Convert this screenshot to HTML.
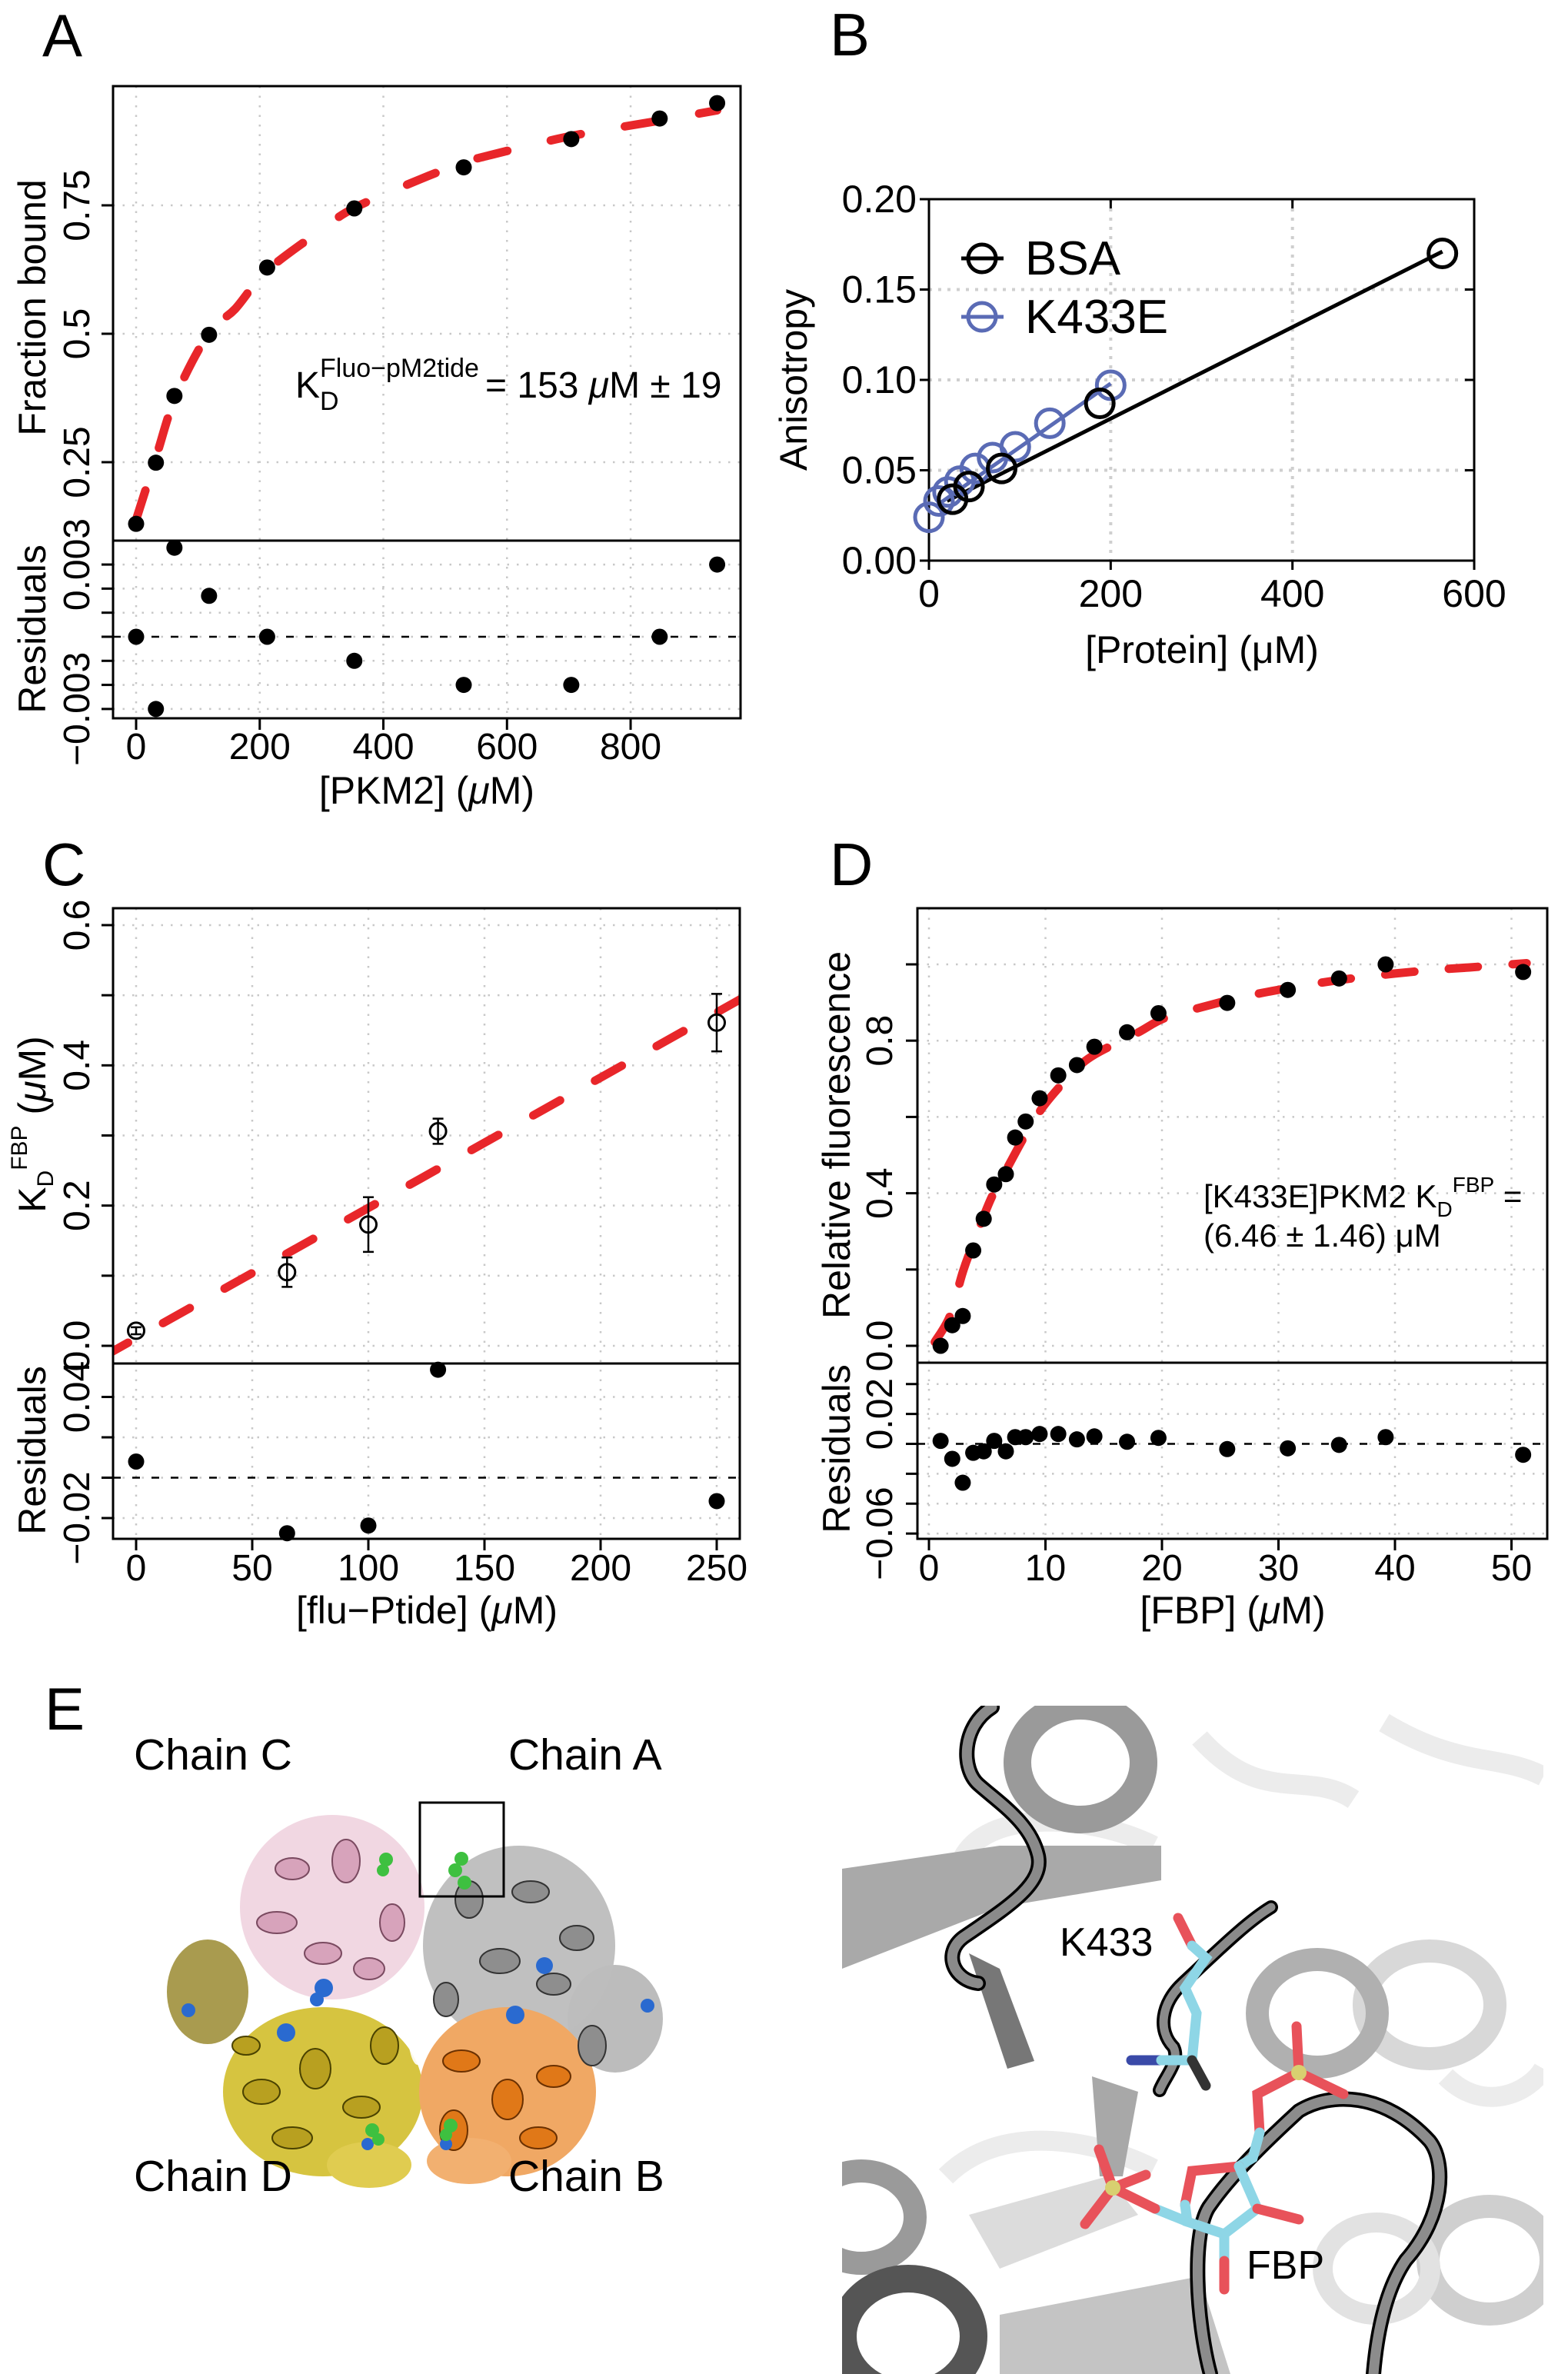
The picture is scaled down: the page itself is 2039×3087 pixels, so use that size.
<!DOCTYPE html>
<html><head><meta charset="utf-8"><style>
html,body{margin:0;padding:0;background:#fff}
svg{display:block;font-family:"Liberation Sans",Arial,sans-serif}
</style></head><body>
<svg id="fig" xmlns="http://www.w3.org/2000/svg" width="2039" height="3087" viewBox="0 0 2039 3087">
<defs>
<clipPath id="clipA"><rect x="147" y="112" width="816" height="591"/></clipPath>
<clipPath id="clipC"><rect x="147" y="1181" width="815" height="592"/></clipPath>
<clipPath id="clipD"><rect x="1193" y="1181" width="819" height="591"/></clipPath>
<clipPath id="clipE"><rect x="1095" y="2218" width="912" height="869"/></clipPath>
</defs>
<rect width="2039" height="3087" fill="#fff"/>

<!-- panel letters -->
<text x="55" y="73" font-size="78">A</text>
<text x="1079" y="72" font-size="78">B</text>
<text x="55" y="1151" font-size="78">C</text>
<text x="1079" y="1151" font-size="78">D</text>
<text x="58" y="2249" font-size="78">E</text>

<g id="gA"></g>
<g id="gB"></g>
<g id="gC"></g>
<g id="gD"></g>

<!-- Panel A text -->
<text x="116" y="400" font-size="50" text-anchor="middle" transform="rotate(-90 59 400)" dx="-57">Fraction bound</text>
<text x="59" y="818" font-size="50" text-anchor="middle" transform="rotate(-90 59 818)">Residuals</text>
<text x="555" y="1045" font-size="50" text-anchor="middle">[PKM2] (<tspan font-style="italic">μ</tspan>M)</text>
<g>
<text x="384" y="517" font-size="48">K</text>
<text x="416" y="533" font-size="34">D</text>
<text x="416" y="490" font-size="34">Fluo−pM2tide</text>
<text x="631" y="517" font-size="48">= 153 <tspan font-style="italic">μ</tspan>M ± 19</text>
</g>

<!-- Panel B text -->
<text x="1049" y="494" font-size="50" text-anchor="middle" transform="rotate(-90 1049 494)">Anisotropy</text>
<text x="1563" y="862" font-size="50" text-anchor="middle">[Protein] (μM)</text>
<g>
<line x1="1250" y1="336" x2="1305" y2="336" stroke="#000" stroke-width="5"/>
<circle cx="1277" cy="336" r="18" fill="none" stroke="#000" stroke-width="5"/>
<text x="1333" y="357" font-size="62">BSA</text>
<line x1="1250" y1="412" x2="1305" y2="412" stroke="#5a6bb5" stroke-width="5"/>
<circle cx="1277" cy="412" r="18" fill="none" stroke="#5a6bb5" stroke-width="5"/>
<text x="1333" y="433" font-size="62">K433E</text>
</g>

<!-- Panel C text -->
<text x="59" y="1462" font-size="50" text-anchor="middle" transform="rotate(-90 59 1462)">K<tspan font-size="30" dy="10">D</tspan><tspan font-size="30" dy="-34">FBP</tspan><tspan dy="24"> (</tspan><tspan font-style="italic">μ</tspan>M)</text>
<text x="59" y="1886" font-size="50" text-anchor="middle" transform="rotate(-90 59 1886)">Residuals</text>
<text x="555" y="2111" font-size="50" text-anchor="middle">[flu−Ptide] (<tspan font-style="italic">μ</tspan>M)</text>

<!-- Panel D text -->
<text x="1105" y="1476" font-size="50" text-anchor="middle" transform="rotate(-90 1105 1476)">Relative fluorescence</text>
<text x="1105" y="1884" font-size="50" text-anchor="middle" transform="rotate(-90 1105 1884)">Residuals</text>
<text x="1603" y="2111" font-size="50" text-anchor="middle">[FBP] (<tspan font-style="italic">μ</tspan>M)</text>
<g>
<text x="1565" y="1570" font-size="42">[K433E]PKM2 K<tspan font-size="28" dy="12">D</tspan><tspan font-size="28" dy="-32">FBP</tspan><tspan dy="20"> =</tspan></text>
<text x="1565" y="1621" font-size="42">(6.46 ± 1.46) μM</text>
</g>

<!-- Panel E left: tetramer -->
<g>
<ellipse cx="270" cy="2590" rx="53" ry="68" fill="#9a8a30" opacity="0.85"/>
<ellipse cx="800" cy="2625" rx="62" ry="70" fill="#b0b0b0" opacity="0.85"/>
<ellipse cx="432" cy="2480" rx="120" ry="120" fill="#efd3df" opacity="0.9"/>
<ellipse cx="675" cy="2530" rx="125" ry="130" fill="#bdbdbd" opacity="0.95"/>
<ellipse cx="420" cy="2720" rx="130" ry="110" fill="#d6c440"/>
<ellipse cx="660" cy="2720" rx="115" ry="110" fill="#f0a864"/>
<ellipse cx="480" cy="2815" rx="55" ry="30" fill="#e0cc50"/>
<ellipse cx="610" cy="2810" rx="55" ry="30" fill="#f2b070"/>
<g fill="#d7a3bb" stroke="#7a4a60" stroke-width="2">
<ellipse cx="380" cy="2430" rx="22" ry="14"/><ellipse cx="450" cy="2420" rx="18" ry="28"/><ellipse cx="360" cy="2500" rx="26" ry="14"/><ellipse cx="420" cy="2540" rx="24" ry="14"/><ellipse cx="480" cy="2560" rx="20" ry="14"/><ellipse cx="510" cy="2500" rx="16" ry="24"/>
</g>
<g fill="#8e8e8e" stroke="#333" stroke-width="2">
<ellipse cx="610" cy="2470" rx="18" ry="24"/><ellipse cx="690" cy="2460" rx="24" ry="14"/><ellipse cx="750" cy="2520" rx="22" ry="16"/><ellipse cx="650" cy="2550" rx="26" ry="16"/><ellipse cx="720" cy="2580" rx="22" ry="14"/><ellipse cx="580" cy="2600" rx="16" ry="22"/><ellipse cx="770" cy="2660" rx="18" ry="26"/>
</g>
<g fill="#b8a020" stroke="#4a4200" stroke-width="2">
<ellipse cx="340" cy="2720" rx="24" ry="16"/><ellipse cx="410" cy="2690" rx="20" ry="26"/><ellipse cx="470" cy="2740" rx="24" ry="14"/><ellipse cx="380" cy="2780" rx="26" ry="14"/><ellipse cx="320" cy="2660" rx="18" ry="12"/><ellipse cx="500" cy="2660" rx="18" ry="24"/>
</g>
<g fill="#e07818" stroke="#6a3000" stroke-width="2">
<ellipse cx="600" cy="2680" rx="24" ry="14"/><ellipse cx="660" cy="2730" rx="20" ry="26"/><ellipse cx="720" cy="2700" rx="22" ry="14"/><ellipse cx="700" cy="2780" rx="24" ry="14"/><ellipse cx="590" cy="2770" rx="18" ry="26"/>
</g>
<ellipse cx="543" cy="2625" rx="14" ry="60" fill="#fff" opacity="0.9"/>
<g fill="#2a6ad0">
<circle cx="421" cy="2585" r="12"/><circle cx="412" cy="2600" r="9"/><circle cx="708" cy="2556" r="11"/><circle cx="670" cy="2620" r="12"/><circle cx="372" cy="2643" r="12"/><circle cx="245" cy="2614" r="9"/><circle cx="842" cy="2608" r="9"/><circle cx="478" cy="2788" r="8"/><circle cx="580" cy="2788" r="8"/>
</g>
<g fill="#3ec040">
<circle cx="600" cy="2417" r="9"/><circle cx="592" cy="2432" r="9"/><circle cx="604" cy="2448" r="9"/><circle cx="502" cy="2418" r="9"/><circle cx="498" cy="2432" r="8"/><circle cx="484" cy="2770" r="9"/><circle cx="492" cy="2782" r="8"/><circle cx="586" cy="2764" r="9"/><circle cx="580" cy="2776" r="8"/>
</g>
<rect x="546" y="2344" width="109" height="122" fill="none" stroke="#000" stroke-width="3"/>
</g>
<text x="174" y="2301" font-size="57">Chain C</text>
<text x="661" y="2301" font-size="57">Chain A</text>
<text x="174" y="2849" font-size="57">Chain D</text>
<text x="661" y="2849" font-size="57">Chain B</text>

<!-- Panel E right: close-up -->
<g clip-path="url(#clipE)">
<rect x="1095" y="2218" width="912" height="869" fill="#fff"/>
<g fill="none" stroke="#ececec" stroke-width="26">
<path d="M1250 2420 C1280 2350 1420 2360 1500 2400"/><path d="M1560 2260 C1640 2350 1700 2300 1760 2340"/><path d="M1800 2240 C1900 2300 1950 2280 2007 2310"/><path d="M1230 2830 C1300 2760 1420 2780 1500 2820"/><path d="M1880 2700 C1930 2750 1990 2720 2007 2690"/>
</g>
<ellipse cx="1859" cy="2607" rx="85" ry="70" fill="none" stroke="#d8d8d8" stroke-width="30"/>
<ellipse cx="1937" cy="2939" rx="80" ry="70" fill="none" stroke="#cfcfcf" stroke-width="30"/>
<ellipse cx="1790" cy="2950" rx="70" ry="60" fill="none" stroke="#e2e2e2" stroke-width="26"/>
<polygon points="1095,2430 1300,2400 1510,2400 1510,2445 1300,2480 1095,2560" fill="#a9a9a9"/>
<polygon points="1260,2540 1300,2560 1345,2680 1310,2690" fill="#777"/>
<polygon points="1420,2700 1480,2720 1460,2830 1430,2830" fill="#a8a8a8"/>
<polygon points="1260,2880 1440,2830 1480,2880 1300,2950" fill="#dcdcdc"/>
<polygon points="1300,3010 1560,2960 1600,3087 1300,3087" fill="#c4c4c4"/>
<ellipse cx="1405" cy="2292" rx="82" ry="74" fill="none" stroke="#9a9a9a" stroke-width="36"/>
<ellipse cx="1713" cy="2618" rx="78" ry="70" fill="none" stroke="#b0b0b0" stroke-width="30"/>
<ellipse cx="1120" cy="2883" rx="70" ry="60" fill="none" stroke="#9a9a9a" stroke-width="30"/>
<ellipse cx="1181" cy="3038" rx="85" ry="75" fill="none" stroke="#555" stroke-width="36"/>
<g fill="none" stroke-linecap="round">
<path d="M1290 2220 C1250 2245 1250 2300 1272 2320 C1300 2345 1340 2370 1350 2413 C1358 2450 1310 2480 1253 2519 C1225 2540 1240 2575 1272 2579" stroke="#000" stroke-width="20"/>
<path d="M1290 2220 C1250 2245 1250 2300 1272 2320 C1300 2345 1340 2370 1350 2413 C1358 2450 1310 2480 1253 2519 C1225 2540 1240 2575 1272 2579" stroke="#8a8a8a" stroke-width="13"/>
<path d="M1653 2480 C1620 2500 1580 2540 1538 2579 C1510 2605 1505 2640 1526 2662 C1535 2680 1515 2700 1508 2718" stroke="#000" stroke-width="18"/>
<path d="M1653 2480 C1620 2500 1580 2540 1538 2579 C1510 2605 1505 2640 1526 2662 C1535 2680 1515 2700 1508 2718" stroke="#8a8a8a" stroke-width="11"/>
<path d="M1574 3087 C1556 3020 1548 2900 1574 2867 C1600 2830 1640 2790 1689 2745 C1730 2720 1800 2720 1859 2784 C1880 2810 1880 2880 1828 2939 C1800 2980 1790 3040 1786 3087" stroke="#000" stroke-width="20"/>
<path d="M1574 3087 C1556 3020 1548 2900 1574 2867 C1600 2830 1640 2790 1689 2745 C1730 2720 1800 2720 1859 2784 C1880 2810 1880 2880 1828 2939 C1800 2980 1790 3040 1786 3087" stroke="#8c8c8c" stroke-width="13"/>
</g>
<g stroke-linecap="round" stroke-width="13" fill="none">
<polyline points="1532,2494 1550,2530" stroke="#e8525a"/>
<polyline points="1550,2530 1568,2546 1541,2585 1556,2618 1550,2679" stroke="#8ed6e6"/>
<polyline points="1471,2679 1510,2679" stroke="#3a4aa8"/>
<polyline points="1510,2679 1550,2679" stroke="#8ed6e6"/>
<polyline points="1550,2679 1568,2712" stroke="#333"/>
</g>
<g stroke-linecap="round" stroke-width="13" fill="none">
<polyline points="1686,2635 1689,2695 1747,2723" stroke="#e8525a"/>
<polyline points="1689,2695 1635,2723 1638,2773" stroke="#e8525a"/>
<polyline points="1638,2773 1629,2806 1611,2817" stroke="#8ed6e6"/>
<polyline points="1611,2817 1550,2823 1541,2867" stroke="#e8525a"/>
<polyline points="1541,2867 1544,2889 1592,2905 1635,2872 1611,2817" stroke="#8ed6e6"/>
<polyline points="1635,2872 1689,2886" stroke="#e8525a"/>
<polyline points="1592,2905 1592,2940" stroke="#8ed6e6"/>
<polyline points="1592,2940 1592,2977" stroke="#e8525a"/>
<polyline points="1544,2889 1502,2872" stroke="#8ed6e6"/>
<polyline points="1429,2795 1447,2845 1411,2892" stroke="#e8525a"/>
<polyline points="1447,2845 1490,2828" stroke="#e8525a"/>
<polyline points="1447,2845 1502,2872" stroke="#e8525a"/>
<circle cx="1689" cy="2695" r="10" fill="#d8d070" stroke="none"/>
<circle cx="1447" cy="2845" r="10" fill="#d8d070" stroke="none"/>
</g>
</g>
<text x="1378" y="2543" font-size="52">K433</text>
<text x="1621" y="2963" font-size="52">FBP</text>

<script>
// ---------- Panel A data ----------
const aX = [0, 32, 62, 118, 212, 353, 530, 704, 847, 940];
const aY = [0.130, 0.249, 0.379, 0.498, 0.629, 0.744, 0.824, 0.879, 0.919, 0.949];
const aRes = [0, -0.003, 0.0037, 0.0017, 0, -0.001, -0.002, -0.002, 0, 0.003];
const aFitX = [0, 32, 65, 118, 160, 212, 302, 353, 460, 530, 577, 704, 847, 940];
const aFitY = [0.138, 0.259, 0.381, 0.502, 0.548, 0.623, 0.704, 0.745, 0.801, 0.833, 0.849, 0.885, 0.915, 0.935];
const aXTicks = [0, 200, 400, 600, 800];
const aYTicks = [0.25, 0.5, 0.75];
const aYLabels = ["0.25", "0.5", "0.75"];
const aRTicks = [-0.003, -0.002, -0.001, 0, 0.001, 0.002, 0.003];
const aRLabelVals = [-0.003, 0.003];
const aRLabels = ["−0.003", "0.003"];
// ---------- Panel B data ----------
const bsaX = [26, 44, 80, 188, 565];
const bsaY = [0.034, 0.041, 0.051, 0.087, 0.170];
const bsaFitX = [20, 565];
const bsaFitY = [0.033, 0.171];
const k433X = [0, 11, 21, 34, 51, 70, 95, 133, 200];
const k433Y = [0.024, 0.033, 0.038, 0.044, 0.051, 0.057, 0.063, 0.076, 0.097];
const k433FitX = [7, 200];
const k433FitY = [0.030, 0.098];
const bXTicks = [0, 200, 400, 600];
const bYTicks = [0, 0.05, 0.10, 0.15, 0.20];
const bYLabels = ["0.00", "0.05", "0.10", "0.15", "0.20"];
// ---------- Panel C data ----------
const cX = [0, 65, 100, 130, 250];
const cY = [0.0215, 0.105, 0.173, 0.306, 0.461];
const cErr = [0.005, 0.021, 0.039, 0.018, 0.041];
const cRes = [0.008, -0.0275, -0.0237, 0.0535, -0.0116];
const cFitX = [-15, 260];
const cFitY = [-0.017, 0.494];
const cXTicks = [0, 50, 100, 150, 200, 250];
const cYTicks = [0, 0.1, 0.2, 0.3, 0.4, 0.5, 0.6];
const cYLabelVals = [0, 0.2, 0.4, 0.6];
const cYLabels = ["0.0", "0.2", "0.4", "0.6"];
const cRTicks = [-0.02, 0, 0.02, 0.04];
const cRLabelVals = [-0.02, 0.04];
const cRLabels = ["−0.02", "0.04"];
// ---------- Panel D data ----------
const dX = [1.0, 2.0, 2.9, 3.8, 4.7, 5.6, 6.6, 7.4, 8.3, 9.5, 11.1, 12.7, 14.2, 17.0, 19.7, 25.6, 30.8, 35.2, 39.2, 51.0];
const dY = [0.0, 0.054, 0.078, 0.250, 0.333, 0.423, 0.450, 0.546, 0.588, 0.649, 0.709, 0.736, 0.784, 0.822, 0.872, 0.899, 0.933, 0.963, 1.000, 0.980];
const dRes = [0.002, -0.010, -0.026, -0.006, -0.005, 0.002, -0.005, 0.0045, 0.0045, 0.0066, 0.0066, 0.003, 0.005, 0.0014, 0.004, -0.0035, -0.003, -0.0007, 0.0045, -0.0073];
const dFitX = [0.5, 1.8, 2.9, 3.8, 5.3, 6.6, 8.3, 10, 12.6, 14.3, 17.8, 20.3, 24.2, 26.8, 30.7, 35, 40, 43.6, 46.4, 51.3];
const dFitY = [0.01, 0.078, 0.193, 0.268, 0.384, 0.459, 0.554, 0.635, 0.724, 0.765, 0.819, 0.86, 0.894, 0.914, 0.937, 0.958, 0.976, 0.986, 0.992, 1.003];
const dXTicks = [0, 10, 20, 30, 40, 50];
const dYTicks = [0, 0.2, 0.4, 0.6, 0.8, 1.0];
const dYLabelVals = [0, 0.4, 0.8];
const dYLabels = ["0.0", "0.4", "0.8"];
const dRTicks = [-0.06, -0.04, -0.02, 0, 0.02, 0.04];
const dRLabelVals = [-0.06, 0.02];
const dRLabels = ["−0.06", "0.02"];

const NS = "http://www.w3.org/2000/svg";
function mk(tag, attrs, parent) {
  const e = document.createElementNS(NS, tag);
  for (const k in attrs) e.setAttribute(k, attrs[k]);
  parent.appendChild(e);
  return e;
}
function smooth(pts) {
  let d = "M" + pts[0][0] + " " + pts[0][1];
  for (let i = 0; i < pts.length - 1; i++) {
    const p0 = pts[Math.max(0, i - 1)], p1 = pts[i], p2 = pts[i + 1], p3 = pts[Math.min(pts.length - 1, i + 2)];
    const c1x = p1[0] + (p2[0] - p0[0]) / 6, c1y = p1[1] + (p2[1] - p0[1]) / 6;
    const c2x = p2[0] - (p3[0] - p1[0]) / 6, c2y = p2[1] - (p3[1] - p1[1]) / 6;
    d += " C" + c1x + " " + c1y + " " + c2x + " " + c2y + " " + p2[0] + " " + p2[1];
  }
  return d;
}

// Generic R-style two-panel plot
function rplot(cfg) {
  const g = document.getElementById(cfg.id);
  const L = cfg.left, R = cfg.right, T = cfg.top, M = cfg.mid, B = cfg.bottom;
  // grids
  cfg.xTicks.forEach(v => {
    const gl = mk("line", {x1: cfg.sx(v), x2: cfg.sx(v), y1: T, y2: B, stroke: "#c8c8c8", "stroke-width": 2.5, "stroke-dasharray": "2.5 10"}, g);
    
    
  });
  cfg.yTicks.forEach(v => {
    const gl = mk("line", {x1: L, x2: R, y1: cfg.sy(v), y2: cfg.sy(v), stroke: "#c8c8c8", "stroke-width": 2.5, "stroke-dasharray": "2.5 10"}, g);
    
    
  });
  cfg.rTicks.forEach(v => {
    const gl = mk("line", {x1: L, x2: R, y1: cfg.sr(v), y2: cfg.sr(v), stroke: "#c8c8c8", "stroke-width": 2.5, "stroke-dasharray": "2.5 10"}, g);
    
    
  });
  // zero dashed line
  const z = mk("line", {x1: L, x2: R, y1: cfg.sr(0), y2: cfg.sr(0), stroke: "#000", "stroke-width": 2.5, "stroke-dasharray": "10 15"}, g);
  
  
  // fit curve
  const pts = cfg.fitX.map((v, i) => [cfg.sx(v), cfg.sy(cfg.fitY[i])]);
  const fit = mk("path", {d: smooth(pts), fill: "none", stroke: "#e8262a", "stroke-width": 11, "stroke-dasharray": cfg.dash, "stroke-linecap": "round", "clip-path": "url(#" + cfg.clip + ")"}, g);
  
  
  // points
  cfg.px.forEach((v, i) => {
    if (cfg.err) {
      const x = cfg.sx(v), y1 = cfg.sy(cfg.py[i] - cfg.err[i]), y2 = cfg.sy(cfg.py[i] + cfg.err[i]);
      const eb = mk("path", {d: "M" + x + " " + y1 + "V" + y2 + "M" + (x - 7) + " " + y1 + "H" + (x + 7) + "M" + (x - 7) + " " + y2 + "H" + (x + 7), stroke: "#000", "stroke-width": 2.5, fill: "none"}, g);
      
      
      const c = mk("circle", {cx: x, cy: cfg.sy(cfg.py[i]), r: 10.5, fill: "none", stroke: "#000", "stroke-width": 3}, g);
      
      
    } else {
      const c = mk("circle", {cx: cfg.sx(v), cy: cfg.sy(cfg.py[i]), r: 10.5, fill: "#000"}, g);
      
      
    }
    const r = mk("circle", {cx: cfg.sx(v), cy: cfg.sr(cfg.pr[i]), r: 10.5, fill: "#000"}, g);
    
    
  });
  // frame
  const fr = mk("rect", {x: L, y: T, width: R - L, height: B - T, fill: "none", stroke: "#000", "stroke-width": 3}, g);
  
  
  const dv = mk("line", {x1: L, x2: R, y1: M, y2: M, stroke: "#000", "stroke-width": 3}, g);
  
  
  // x ticks
  cfg.xTicks.forEach(v => {
    const t = mk("line", {x1: cfg.sx(v), x2: cfg.sx(v), y1: B, y2: B + 15, stroke: "#000", "stroke-width": 3}, g);
    
    
    const tl = mk("text", {x: cfg.sx(v), y: cfg.xLabelY, "font-size": 48, "text-anchor": "middle"}, g);
    tl.textContent = String(v);
    
    
  });
  // y ticks
  cfg.yTicks.forEach(v => {
    const t = mk("line", {x1: L - 15, x2: L, y1: cfg.sy(v), y2: cfg.sy(v), stroke: "#000", "stroke-width": 3}, g);
    
    
  });
  cfg.yLabelVals.forEach((v, i) => {
    const y = cfg.sy(v);
    const tl = mk("text", {x: cfg.yLabelX, y: y, "font-size": 48, "text-anchor": "middle", transform: "rotate(-90 " + cfg.yLabelX + " " + y + ")"}, g);
    tl.textContent = cfg.yLabels[i];
    
    
  });
  cfg.rTicks.forEach(v => {
    const t = mk("line", {x1: L - 15, x2: L, y1: cfg.sr(v), y2: cfg.sr(v), stroke: "#000", "stroke-width": 3}, g);
    
    
  });
  cfg.rLabelVals.forEach((v, i) => {
    const y = cfg.sr(v);
    const tl = mk("text", {x: cfg.yLabelX, y: y, "font-size": 48, "text-anchor": "middle", transform: "rotate(-90 " + cfg.yLabelX + " " + y + ")"}, g);
    tl.textContent = cfg.rLabels[i];
    
    
  });
}

rplot({id: "gA", left: 147, right: 963, top: 112, mid: 703, bottom: 934, clip: "clipA", dash: "40 58",
  sx: v => 177 + v * 0.8038, sy: v => 768 - v * 668, sr: v => 828 - v * 31300,
  xTicks: aXTicks, yTicks: aYTicks, rTicks: aRTicks, yLabelVals: aYTicks, yLabels: aYLabels,
  rLabelVals: aRLabelVals, rLabels: aRLabels, xLabelY: 987, yLabelX: 116,
  px: aX, py: aY, pr: aRes, fitX: aFitX, fitY: aFitY});

rplot({id: "gC", left: 147, right: 962, top: 1181, mid: 1773, bottom: 2001, clip: "clipC", dash: "40 52",
  sx: v => 177 + v * 3.02, sy: v => 1750 - v * 911.7, sr: v => 1921.5 - v * 2625,
  xTicks: cXTicks, yTicks: cYTicks, rTicks: cRTicks, yLabelVals: cYLabelVals, yLabels: cYLabels,
  rLabelVals: cRLabelVals, rLabels: cRLabels, xLabelY: 2055, yLabelX: 116,
  px: cX, py: cY, pr: cRes, err: cErr, fitX: cFitX, fitY: cFitY});

rplot({id: "gD", left: 1193, right: 2012, top: 1181, mid: 1772, bottom: 2001, clip: "clipD", dash: "38 45",
  sx: v => 1208 + v * 15.15, sy: v => 1750 - v * 496, sr: v => 1877.5 - v * 1944,
  xTicks: dXTicks, yTicks: dYTicks, rTicks: dRTicks, yLabelVals: dYLabelVals, yLabels: dYLabels,
  rLabelVals: dRLabelVals, rLabels: dRLabels, xLabelY: 2055, yLabelX: 1160,
  px: dX, py: dY, pr: dRes, fitX: dFitX, fitY: dFitY});

// ---------- Panel B ----------
(function () {
  const g = document.getElementById("gB");
  const L = 1208, R = 1917, T = 259, B = 729;
  const sx = v => L + v * 1.1817, sy = v => B - v * 2350;
  [200, 400].forEach(v => {
    const gl = mk("line", {x1: sx(v), x2: sx(v), y1: T, y2: B, stroke: "#cfcfcf", "stroke-width": 4, "stroke-dasharray": "4 8"}, g);
    
    
  });
  [0.05, 0.10, 0.15].forEach(v => {
    const gl = mk("line", {x1: L, x2: R, y1: sy(v), y2: sy(v), stroke: "#cfcfcf", "stroke-width": 4, "stroke-dasharray": "4 8"}, g);
    
    
  });
  const fr = mk("rect", {x: L, y: T, width: R - L, height: B - T, fill: "none", stroke: "#000", "stroke-width": 3}, g);
  
  
  bXTicks.forEach(v => {
    const t = mk("path", {d: "M" + sx(v) + " " + B + "v12M" + sx(v) + " " + T + "v12", stroke: "#000", "stroke-width": 3}, g);
    
    
    const tl = mk("text", {x: sx(v), y: 789, "font-size": 50, "text-anchor": "middle"}, g);
    tl.textContent = String(v);
    
    
  });
  bYTicks.forEach((v, i) => {
    const t = mk("path", {d: "M" + (L - 12) + " " + sy(v) + "h12M" + (R - 12) + " " + sy(v) + "h12", stroke: "#000", "stroke-width": 3}, g);
    
    
    const tl = mk("text", {x: 1192, y: sy(v) + 17, "font-size": 50, "text-anchor": "end"}, g);
    tl.textContent = bYLabels[i];
    
    
  });
  const l1 = mk("line", {x1: sx(bsaFitX[0]), y1: sy(bsaFitY[0]), x2: sx(bsaFitX[1]), y2: sy(bsaFitY[1]), stroke: "#000", "stroke-width": 5}, g);
  
  
  const l2 = mk("line", {x1: sx(k433FitX[0]), y1: sy(k433FitY[0]), x2: sx(k433FitX[1]), y2: sy(k433FitY[1]), stroke: "#5a6bb5", "stroke-width": 5}, g);
  
  
  k433X.forEach((v, i) => {
    const c = mk("circle", {cx: sx(v), cy: sy(k433Y[i]), r: 18, fill: "none", stroke: "#5a6bb5", "stroke-width": 5}, g);
    
    
  });
  bsaX.forEach((v, i) => {
    const c = mk("circle", {cx: sx(v), cy: sy(bsaY[i]), r: 18, fill: "none", stroke: "#000", "stroke-width": 5}, g);
    
    
  });
})();
</script>
</svg>
</body></html>
